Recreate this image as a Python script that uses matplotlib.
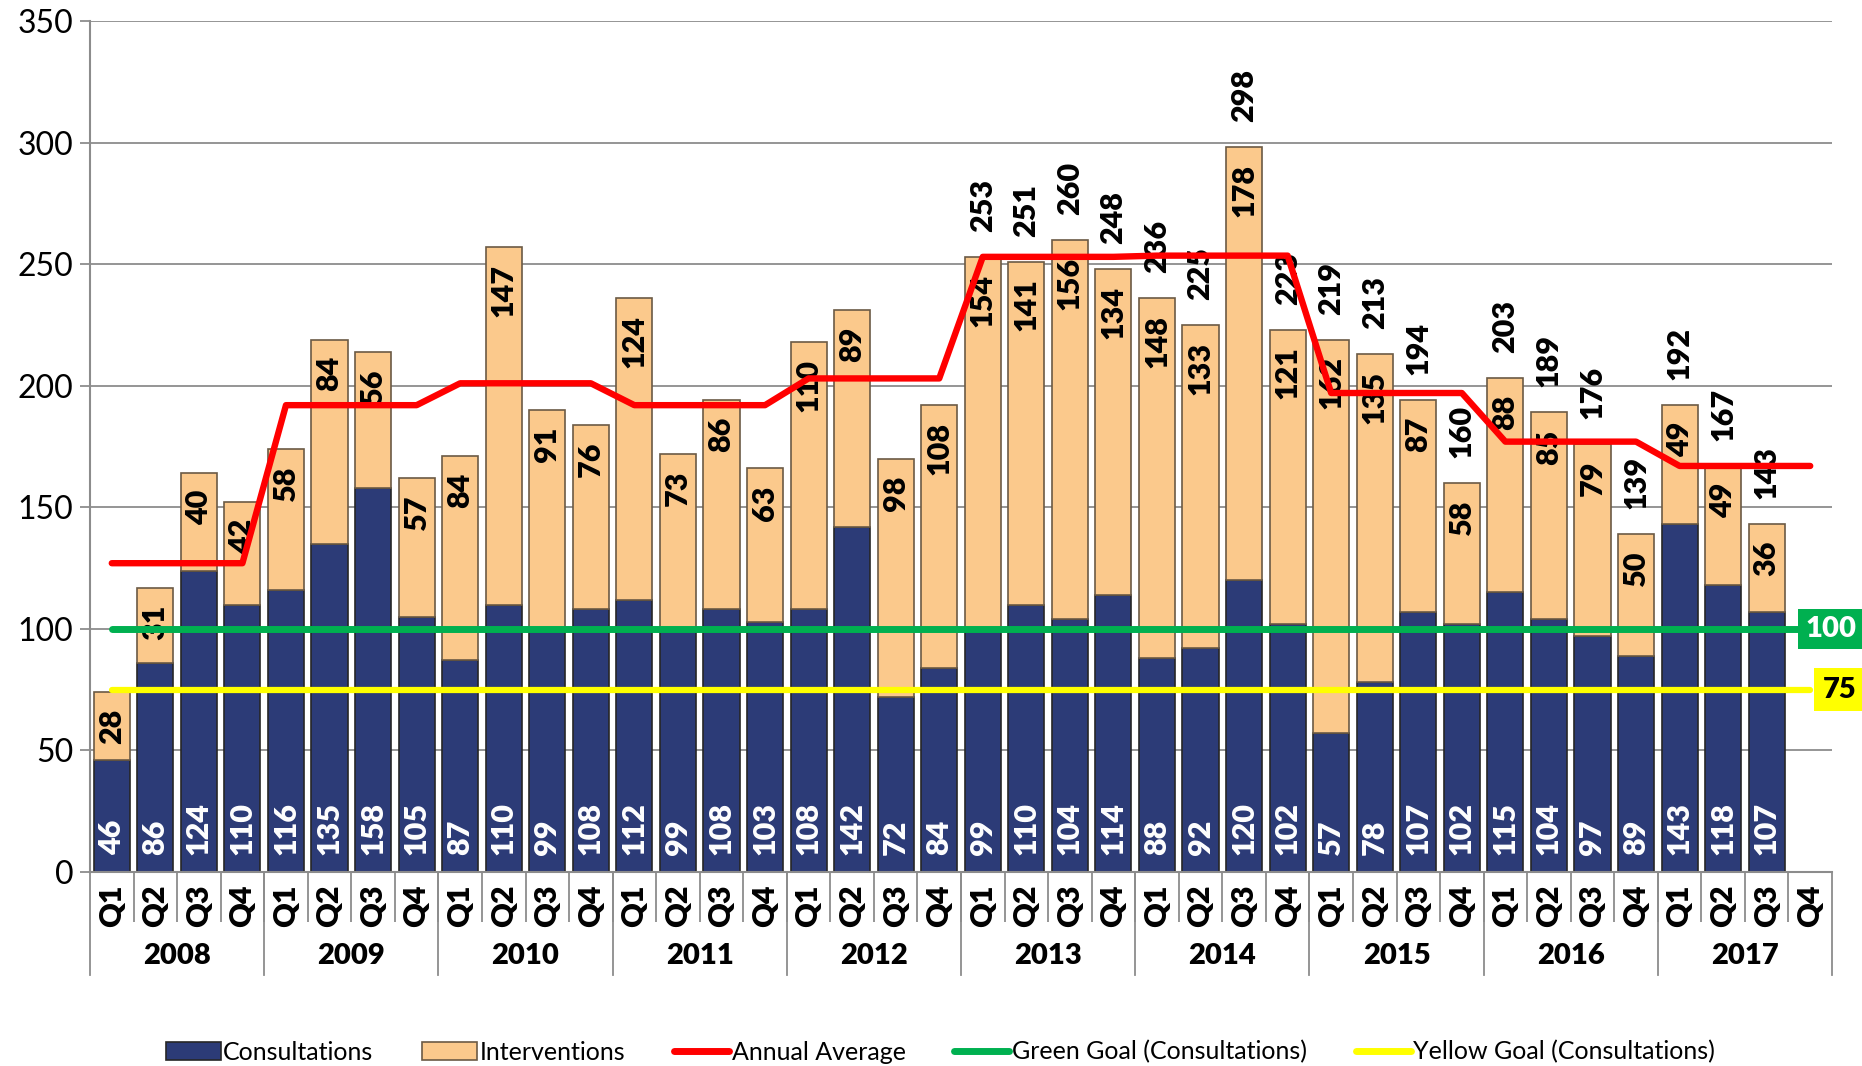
import numpy as np
import matplotlib.pyplot as plt
from matplotlib.patches import Patch
from matplotlib.lines import Line2D

plt.rcParams['font.family'] = ['Lato', 'DejaVu Sans']

##############################################################
# data
years = ['2008', '2009', '2010', '2011', '2012', '2013', '2014', '2015', '2016', '2017']
quarters = ['Q1', 'Q2', 'Q3', 'Q4']

consultations = [46, 86, 124, 110,
                 116, 135, 158, 105,
                 87, 110, 99, 108,
                 112, 99, 108, 103,
                 108, 142, 72, 84,
                 99, 110, 104, 114,
                 88, 92, 120, 102,
                 57, 78, 107, 102,
                 115, 104, 97, 89,
                 143, 118, 107]
interventions = [28, 31, 40, 42,
                 58, 84, 56, 57,
                 84, 147, 91, 76,
                 124, 73, 86, 63,
                 110, 89, 98, 108,
                 154, 141, 156, 134,
                 148, 133, 178, 121,
                 162, 135, 87, 58,
                 88, 85, 79, 50,
                 49, 49, 36]
annual_average = [127, 192, 201, 192, 203, 253, 253.5, 197, 177, 167]
green_goal = 100
yellow_goal = 75
first_total_label = 20   # totals are only labelled from 2013 Q1 on

##############################################################

n_slots = len(years) * len(quarters)
x = np.arange(n_slots)
cons = np.array(consultations)
intr = np.array(interventions)
xb = x[:len(cons)]
totals = cons + intr
avg_line = np.repeat(annual_average, len(quarters))

navy = '#2C3B77'
orange = '#FBC98C'
red = '#FF0000'
green = '#00B050'
yellow = '#FFFF00'
gray = '#8C8C8C'

fig = plt.figure(figsize=(18.62, 10.66), dpi=100)
ax = fig.add_axes([90 / 1862, 1 - 872 / 1066, 1742 / 1862, 851 / 1066])

ax.bar(xb, cons, width=0.83, color=navy, edgecolor='#262626', linewidth=1.2, zorder=2)
ax.bar(xb, intr, bottom=cons, width=0.83, color=orange, edgecolor='#6B5A45', linewidth=1.2, zorder=2)

lab = dict(rotation=90, ha='center', fontsize=22, fontweight='heavy',
           textcoords='offset points', zorder=3)
for xi, c, i, t in zip(xb, cons, intr, totals):
    ax.annotate(str(c), (xi, 0), xytext=(0, 12), va='bottom', color='white', **lab)
    ax.annotate(str(i), (xi, t), xytext=(0, -12), va='top', color='black', **lab)
    if xi >= first_total_label:
        ax.annotate(str(t), (xi, t), xytext=(0, 18), va='bottom', color='black', **lab)

ax.plot(x, avg_line, color=red, lw=4.6, solid_capstyle='round', solid_joinstyle='round', zorder=5)
ax.plot(x, [green_goal] * n_slots, color=green, lw=5, solid_capstyle='round', zorder=5)
ax.plot(x, [yellow_goal] * n_slots, color=yellow, lw=4.5, solid_capstyle='round', zorder=5)

ax.annotate(str(green_goal), (x[-1], green_goal), xytext=(15, 0), textcoords='offset points',
            ha='center', va='center', color='white', fontsize=21, fontweight='heavy',
            bbox=dict(boxstyle='square,pad=0.25', fc=green, ec='none'),
            annotation_clip=False, zorder=6)
ax.annotate(str(yellow_goal), (x[-1], yellow_goal), xytext=(21, 0), textcoords='offset points',
            ha='center', va='center', color='black', fontsize=21, fontweight='heavy',
            bbox=dict(boxstyle='square,pad=0.28', fc=yellow, ec='none'),
            annotation_clip=False, zorder=6)

# axes
ax.set_xlim(-0.5, n_slots - 0.5)
ax.set_ylim(0, 350)
ax.set_yticks(np.arange(0, 351, 50))
ax.yaxis.grid(True, color=gray, lw=1.3)
ax.set_axisbelow(True)
for s in ['top', 'right']:
    ax.spines[s].set_visible(False)
for s in ['left', 'bottom']:
    ax.spines[s].set_color(gray)
    ax.spines[s].set_linewidth(1.5)
ax.tick_params(axis='y', length=7, color=gray, width=1.3, labelsize=23, pad=5)

ax.set_xticks(x)
ax.set_xticklabels(quarters * len(years), rotation=90, fontweight='heavy', fontsize=22)
ax.tick_params(axis='x', which='major', length=0, pad=9)
ax.set_xticks(x[:-1] + 0.5, minor=True)
ax.tick_params(axis='x', which='minor', length=36, color=gray, width=1.3)

trans = ax.get_xaxis_transform()
for b in np.arange(-0.5, n_slots, len(quarters)):
    ax.plot([b, b], [0, -103 / 851], transform=trans, color=gray, lw=1.3, clip_on=False)
for k, yr in enumerate(years):
    ax.text(k * 4 + 1.5, -84 / 851, yr, transform=trans, ha='center', va='center',
            fontsize=21, fontweight='heavy')

handles = [
    Patch(facecolor=navy, edgecolor='#262626', linewidth=1.2),
    Patch(facecolor=orange, edgecolor='#6B5A45', linewidth=1.2),
    Line2D([], [], color=red, lw=5, solid_capstyle='round'),
    Line2D([], [], color=green, lw=5, solid_capstyle='round'),
    Line2D([], [], color=yellow, lw=5, solid_capstyle='round'),
]
labels = ['Consultations', 'Interventions', 'Annual Average',
          'Green Goal (Consultations)', 'Yellow Goal (Consultations)']
fig.legend(handles, labels, loc='center', bbox_to_anchor=(0.505, 0.013), ncol=5,
           frameon=False, fontsize=18, handlelength=2.2, handleheight=0.7,
           handletextpad=0.1, columnspacing=1.95)

fig.savefig('out.png', dpi=100)
